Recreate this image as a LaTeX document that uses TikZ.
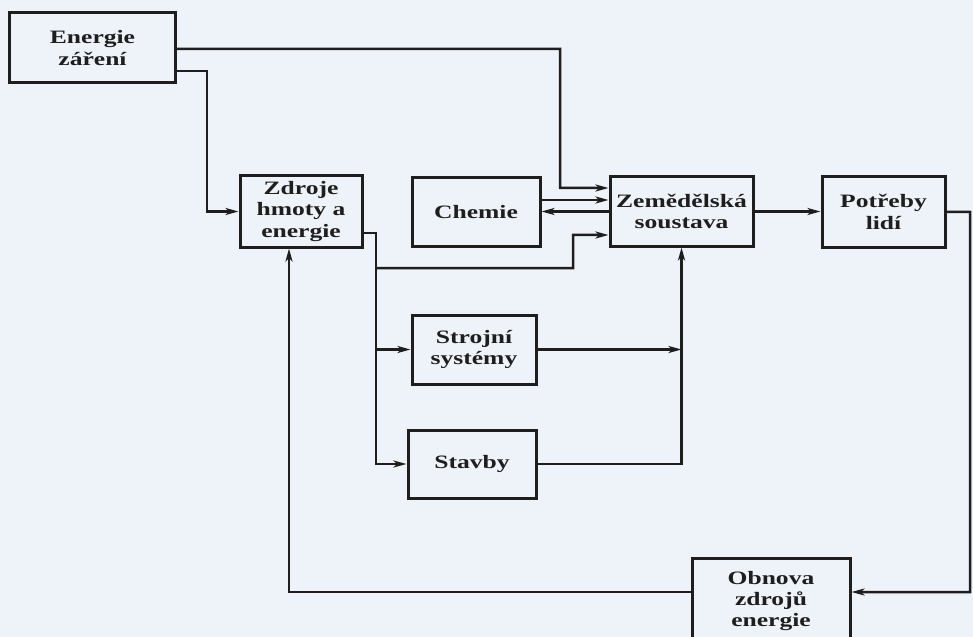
\documentclass[tikz,border=0pt]{standalone}
\usepackage{fontspec}
\newfontfamily\diafont{Liberation Serif}[FakeStretch=1.35]
\usetikzlibrary{arrows.meta}
\definecolor{paper}{RGB}{238,243,250}
\definecolor{ink}{RGB}{30,30,30}
\begin{document}
\begin{tikzpicture}[x=1bp,y=-1bp,
  box/.style={draw=ink, line width=3bp, fill=paper, align=center, text=ink,
    font=\diafont\bfseries\fontsize{19}{21.5}\selectfont, inner sep=0pt},
  conn/.style={draw=ink, line width=2.5bp},
  arr/.style={conn, -{Stealth[length=13bp,width=7bp,inset=3.5bp]}}]
\fill[paper] (0,0) rectangle (973,637);
\useasboundingbox (0,0) rectangle (973,637);

\node[box, minimum width=165bp, minimum height=70bp] (E) at (92.5,48) {Energie\\záření};
\node[box, minimum width=122bp, minimum height=71bp] (Z) at (301,211.5) {Zdroje\\hmoty a\\energie};
\node[box, minimum width=128bp, minimum height=68bp] (C) at (476,212) {Chemie};
\node[box, minimum width=143bp, minimum height=69bp] (A) at (681.5,211.5) {Zemědělská\\soustava};
\node[box, minimum width=123bp, minimum height=70bp] (P) at (883.5,212) {Potřeby\\lidí};
\node[box, minimum width=124bp, minimum height=69bp] (S) at (474,349.5) {Strojní\\systémy};
\node[box, minimum width=128bp, minimum height=68bp] (T) at (472,464) {Stavby};
\node[box, minimum width=158bp, minimum height=86bp] (O) at (771,601) {Obnova\\zdrojů\\energie};

\coordinate (c1) at (560,188);
\coordinate (c2) at (207,211.5);
\coordinate (c3) at (376,464);
\coordinate (j1) at (376,268);
\coordinate (c4) at (573,235);
\coordinate (j2) at (376,349.5);
\coordinate (c5) at (970,592);

\draw[arr] ([yshift=-1bp]E.east) -| (c1) -- ([yshift=23.5bp]A.west);
\draw[arr] ([yshift=-23bp]E.east) -| (c2) -- (Z.west);
\draw[arr] ([yshift=12bp]C.east) -- ([yshift=11.5bp]A.west);
\draw[arr] (A.west) -- (A.west -| C.east);
\draw[arr] ([yshift=-21.5bp]Z.east) -| (c3) -- (T.west);
\draw[arr] (j1) -| (c4) -- ([yshift=-23.5bp]A.west);
\draw[arr] (j2) -- (S.west);
\draw[arr] (S.east) -- (S.east -| A.south);
\draw[arr] (T.east) -| (A.south);
\draw[arr] (A.east) -- (A.east -| P.west);
\draw[arr] (P.east) -| (c5) -- ([yshift=9bp]O.east);
\draw[arr] ([yshift=9bp]O.west) -| ([xshift=-12bp]Z.south);
\end{tikzpicture}
\end{document}
